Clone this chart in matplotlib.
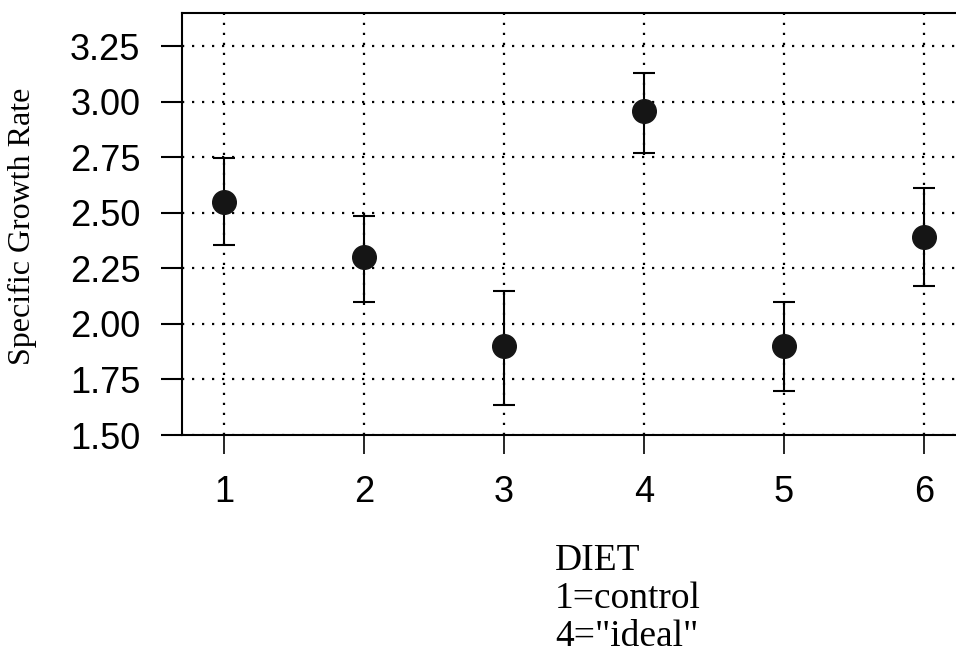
import numpy as np
import matplotlib
import matplotlib.pyplot as plt

matplotlib.use("Agg")

# data
diets = [1, 2, 3, 4, 5, 6]
growth_mean = [2.55, 2.30, 1.90, 2.96, 1.90, 2.39]
growth_upper = [2.745, 2.485, 2.15, 3.13, 2.10, 2.61]
growth_lower = [2.355, 2.10, 1.635, 2.77, 1.70, 2.17]
y_ticks = [1.50, 1.75, 2.00, 2.25, 2.50, 2.75, 3.00, 3.25]
x_label_lines = ["DIET", "1=control", '4="ideal"']

mean = np.array(growth_mean)
yerr = [mean - np.array(growth_lower), np.array(growth_upper) - mean]

fig = plt.figure(figsize=(9.56, 6.66), dpi=100)
# axes run off the right edge like the scanned original
ax = fig.add_axes([182/956, 1 - 435/666, (966 - 182)/956, (435 - 13)/666])

ax.errorbar(diets, growth_mean, yerr=yerr, fmt="o", color="#151515",
            markersize=17, ecolor="black", elinewidth=1.5, capsize=8, capthick=1.5,
            zorder=3)

ax.set_xlim(0.7, 6.3)
ax.set_ylim(1.50, 3.40)
ax.set_xticks(diets)
ax.set_yticks(y_ticks)
ax.set_yticklabels(["%.2f" % v for v in y_ticks])

ax.grid(True, color="black", linestyle=(0, (1, 3.5)), linewidth=1.6)
ax.set_axisbelow(True)

for s in ("left", "bottom", "top"):
    ax.spines[s].set_linewidth(1.5)
ax.spines["right"].set_visible(False)

ax.tick_params(axis="y", direction="out", length=15, width=1.5, pad=15,
               labelsize=26)
ax.tick_params(axis="x", direction="out", length=14, width=1.2, pad=15,
               labelsize=26)
for lab in ax.get_xticklabels() + ax.get_yticklabels():
    lab.set_fontfamily("Liberation Sans")

# axis titles in a serif face
fig.text(22/956, 1 - 226/666, "Specific Growth Rate", family="Liberation Serif",
         fontsize=23, rotation=90, ha="center", va="center")
fig.text(555/956, 1 - 544/666, "\n".join(x_label_lines), family="Liberation Serif",
         fontsize=27, ha="left", va="top", linespacing=1.13)

fig.savefig("out.png", dpi=100)
